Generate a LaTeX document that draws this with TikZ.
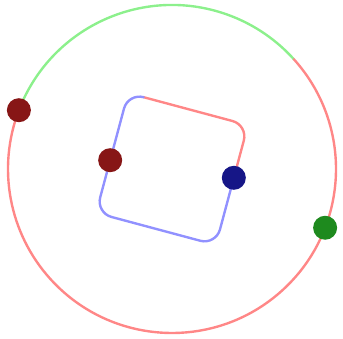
\documentclass[tikz,border=0pt]{standalone}
\usetikzlibrary{positioning,calc}
\definecolor{LRed}{RGB}{255,135,135}
\definecolor{LGreen}{RGB}{140,240,140}
\definecolor{LBlue}{RGB}{145,145,255}
\definecolor{BRed}{RGB}{135,22,22}
\definecolor{BGreen}{RGB}{30,138,30}
\definecolor{BBlue}{RGB}{22,22,135}
\begin{document}
\begin{tikzpicture}[x=.025cm,y=.025cm,
  track/.style={line width=1.7pt,line cap=round},
  ball/.style={circle,fill=#1,inner sep=0pt,minimum size=.6cm}]
\useasboundingbox (0,0) rectangle (343,339);
\coordinate (C) at (172,170);
\draw[track,LGreen] ($(C)+(159:164)$) arc (159:42:164);
\draw[track,LRed] ($(C)+(42:164)$) arc (42:-201:164);
\begin{scope}[shift={(C)},rotate=-15]
  \draw[track,LRed] (-46,62) -- (46,62) arc (90:0:16) -- (62,7.5);
  \draw[track,LBlue] (62,7.5) -- (62,-46) arc (0:-90:16) -- (-46,-62)
    arc (270:180:16) -- (-62,46) arc (180:90:16);
  \node[ball=BRed] (inred) at (-62,-7.5) {};
  \node[ball=BBlue] (inblue) at (62,7.5) {};
\end{scope}
\node[ball=BRed] (outred) at ($(C)+(159:164)$) {};
\node[ball=BGreen] (outgreen) at ($(C)+(-21:164)$) {};
\end{tikzpicture}
\end{document}
